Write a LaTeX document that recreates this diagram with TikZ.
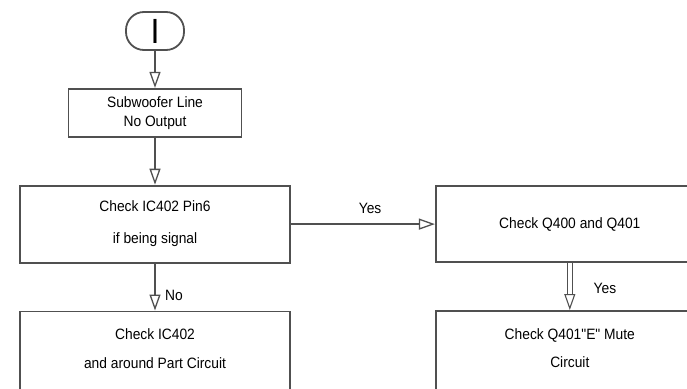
\documentclass[tikz,border=0pt]{standalone}
\usepackage{fontspec}
\setmainfont{Liberation Sans}[FakeStretch=0.92,Ligatures=TeXOff]
\usetikzlibrary{arrows.meta,positioning,calc}
\definecolor{fcline}{HTML}{505050}

\begin{document}
\begin{tikzpicture}[x=1pt,y=-1pt,
      box/.style={draw=fcline,line width=1.8pt,align=center,font=\fontsize{15}{19}\selectfont},
      term/.style={draw=fcline,line width=1.8pt,rounded corners=18pt,minimum width=58pt,minimum height=38pt,inner sep=0pt},
      arr/.style={-{Triangle[open,length=16pt,width=11pt,line width=1.3pt]},line width=1.8pt,draw=fcline},
      dbl/.style={draw=fcline,double=white,double distance=3.5pt,line width=1pt},
      tip/.style={-{Triangle[open,length=16pt,width=11pt,line width=1.1pt]},line width=1pt,draw=fcline},
      lbl/.style={font=\fontsize{15}{18}\selectfont}]
    \useasboundingbox (0,0) rectangle (687,388);
    \clip (0,0) rectangle (687,388);
    \node[term,font=\fontsize{35}{35}\selectfont] (start) at (155,31) {I};
    \node[box,minimum width=173pt,minimum height=48pt,below=37pt of start] (noout)
      {Subwoofer Line\\No Output};
    \node[box,minimum width=270pt,minimum height=77pt,below=47pt of noout] (pin6)
      {Check IC402 Pin6\\[13pt]if being signal};
    \node[box,minimum width=270pt,minimum height=88pt,text depth=13pt,below=47pt of pin6] (ic402)
      {Check IC402\\[10pt]and around Part Circuit};
    \node[box,minimum width=268pt,minimum height=76pt,right=144pt of pin6] (q400)
      {Check Q400 and Q401};
    \node[box,minimum width=268pt,minimum height=88pt,text depth=13pt,below=47pt of q400] (mute)
      {Check Q401"E" Mute\\[9pt]Circuit};
    \draw[arr] (start) -- (noout);
    \draw[arr] (noout) -- (pin6);
    \draw[arr] (pin6) -- node[pos=0.55,above=6pt,lbl] {Yes} (q400);
    \draw[arr] (pin6) -- node[pos=0.68,right=6pt,lbl] {No} (ic402);
    \draw[dbl,shorten >=15pt] (q400) -- (mute);
    \draw[tip,shorten <=31pt] (q400.south) -- node[pos=0.55,right=20pt,lbl] {Yes} (mute.north);
  \end{tikzpicture}
\end{document}
